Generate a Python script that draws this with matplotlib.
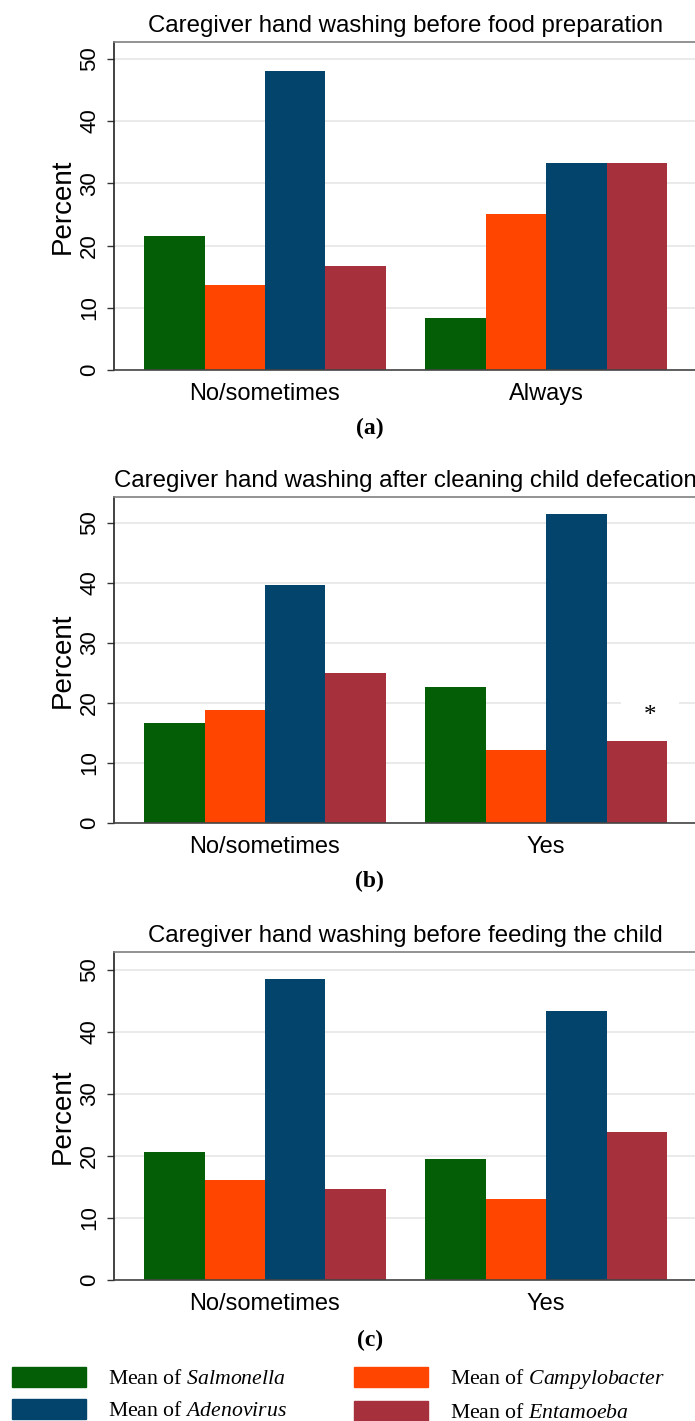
import numpy as np
import matplotlib
matplotlib.use('Agg')
import matplotlib.pyplot as plt
from matplotlib.patches import Patch

plt.rcParams['font.family'] = ['Liberation Sans', 'DejaVu Sans']
plt.rcParams['mathtext.fontset'] = 'custom'
plt.rcParams['mathtext.rm'] = 'Liberation Serif'
plt.rcParams['mathtext.it'] = 'Liberation Serif:italic'

# data (percent)
pathogens = ['Salmonella', 'Campylobacter', 'Adenovirus', 'Entamoeba']
colors = ['#035E05', '#FF4500', '#03446D', '#A6313C']

titles = ['Caregiver hand washing before food preparation',
          'Caregiver hand washing after cleaning child defecation',
          'Caregiver hand washing before feeding the child']
groups_a = ['No/sometimes', 'Always']
groups_b = ['No/sometimes', 'Yes']
groups_c = ['No/sometimes', 'Yes']

vals_a = [[21.6, 8.3], [13.7, 25.0], [48.1, 33.3], [16.7, 33.3]]
vals_b = [[16.7, 22.7], [18.8, 12.1], [39.6, 51.5], [25.0, 13.6]]
vals_c = [[20.6, 19.5], [16.1, 13.0], [48.6, 43.4], [14.7, 23.9]]

ylims = [52.7, 54.3, 52.9]
panel_tags = ['(a)', '(b)', '(c)']

fig = plt.figure(figsize=(6.95, 14.21), dpi=100)

# [left, bottom, width, height] of each panel, in figure fractions
boxes = [[0.164, 0.7396, 0.839, 0.2308],
         [0.164, 0.4208, 0.839, 0.2294],
         [0.164, 0.0992, 0.839, 0.2308]]
tag_y = [0.6988, 0.3795, 0.0565]

w = 0.215
x = np.arange(2)

for k, (vals, groups) in enumerate(zip([vals_a, vals_b, vals_c],
                                       [groups_a, groups_b, groups_c])):
    ax = fig.add_axes(boxes[k])
    for i, (v, c) in enumerate(zip(vals, colors)):
        ax.bar(x + (i - 1.5) * w, v, width=w, color=c, edgecolor='none',
               zorder=2)

    ax.set_xlim(-0.537, 1.537)
    ax.set_ylim(0, ylims[k])
    ax.set_yticks([0, 10, 20, 30, 40, 50])
    ax.yaxis.grid(True, color='#E8E8E8', lw=1.3)
    ax.set_axisbelow(True)
    ax.set_xticks(x)
    ax.set_xticklabels(groups, fontsize=17)
    ax.tick_params(axis='x', length=0, pad=9)
    ax.tick_params(axis='y', length=5, width=1, color='#333333',
                   labelsize=16, pad=5)
    for lab in ax.get_yticklabels():
        lab.set_rotation(90)
        lab.set_va('center')
    ax.set_ylabel('Percent', fontsize=20, labelpad=2.5)
    ax.set_title(titles[k], fontsize=17.3, pad=7)

    ax.spines['right'].set_visible(False)
    ax.spines['top'].set_color('#808080')
    ax.spines['left'].set_color('#222222')
    ax.spines['bottom'].set_color('#444444')
    for s in ['top', 'left', 'bottom']:
        ax.spines[s].set_linewidth(1.2)

    if k == 1:
        # white box hides the gridline, bars stay on top of it
        ax.text(1.37, 17.9, '*', fontsize=18, ha='center', va='center',
                family='Liberation Serif', zorder=1.5,
                bbox=dict(boxstyle='square,pad=0.9', fc='white',
                          ec='none'))

    fig.text(0.532, tag_y[k], panel_tags[k], fontsize=17, weight='bold',
             family='Liberation Serif', ha='center', va='center')

handles = [Patch(color=colors[i], label='Mean of $\\mathit{%s}$' % pathogens[i])
           for i in [0, 2, 1, 3]]
fig.legend(handles=handles, ncol=2, loc='upper left',
           bbox_to_anchor=(0.017, 1 - 1367 / 1421), frameon=False,
           prop={'family': 'Liberation Serif', 'size': 15.7},
           handlelength=3.4, handleheight=1.0, handletextpad=1.0,
           columnspacing=3.1, labelspacing=0.45, borderpad=0,
           borderaxespad=0)

fig.savefig('out.png', dpi=100)
